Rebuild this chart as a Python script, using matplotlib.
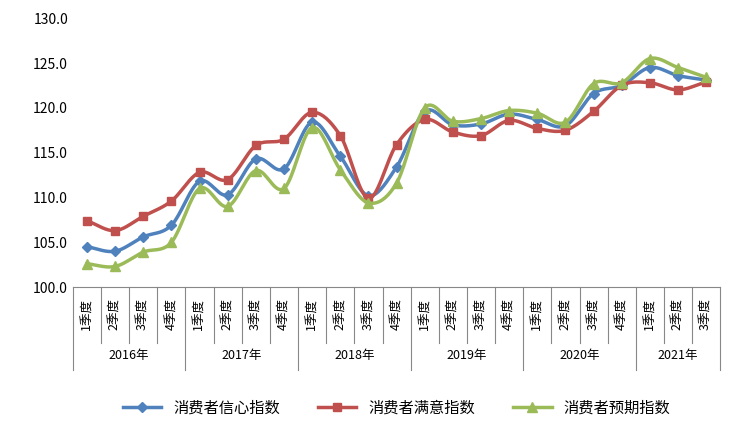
import numpy as np
import matplotlib.pyplot as plt
import matplotlib.transforms as mtransforms

plt.rcParams['font.family'] = ['Noto Sans CJK SC', 'DejaVu Sans']

years = ['2016年', '2017年', '2018年', '2019年', '2020年', '2021年']
quarters_per_year = [4, 4, 4, 4, 4, 3]
quarter_labels = ['1季度', '2季度', '3季度', '4季度']

confidence = [104.5, 104.0, 105.6, 106.9, 111.8, 110.3, 114.3, 113.2, 118.4, 114.6, 110.2, 113.4,
              119.6, 118.1, 118.2, 119.3, 118.7, 118.0, 121.6, 122.5, 124.5, 123.6, 123.1]
satisfaction = [107.4, 106.3, 107.9, 109.6, 112.8, 112.0, 115.8, 116.5, 119.5, 116.9, 109.9, 115.9,
                118.7, 117.3, 116.9, 118.6, 117.7, 117.5, 119.6, 122.5, 122.8, 122.0, 122.9]
expectation = [102.6, 102.3, 103.9, 105.0, 111.0, 109.0, 113.0, 111.0, 117.8, 113.1, 109.4, 111.6,
               120.0, 118.5, 118.8, 119.7, 119.4, 118.4, 122.7, 122.8, 125.5, 124.5, 123.4]


def smooth(y, n=20):
    # Catmull-Rom curve through the points, like Excel's smoothed line
    y = np.asarray(y, float)
    x = np.arange(len(y), dtype=float)
    px = np.concatenate([[2 * x[0] - x[1]], x, [2 * x[-1] - x[-2]]])
    py = np.concatenate([[2 * y[0] - y[1]], y, [2 * y[-1] - y[-2]]])
    xs, ys = [], []
    t = np.linspace(0, 1, n, endpoint=False)
    for i in range(1, len(px) - 2):
        for p, out in ((px, xs), (py, ys)):
            p0, p1, p2, p3 = p[i - 1:i + 3]
            out.extend(0.5 * (2 * p1 + (-p0 + p2) * t + (2 * p0 - 5 * p1 + 4 * p2 - p3) * t ** 2
                              + (-p0 + 3 * p1 - 3 * p2 + p3) * t ** 3))
    xs.append(x[-1]); ys.append(y[-1])
    return np.array(xs), np.array(ys)


fig = plt.figure(figsize=(7.29, 4.24), dpi=100)
ax = fig.add_axes([0.100, 0.323, 0.888, 0.634])

series = [
    (confidence, '消费者信心指数', '#4F81BD', 'D', 5),
    (satisfaction, '消费者满意指数', '#C0504D', 's', 6),
    (expectation, '消费者预期指数', '#9BBB59', '^', 7),
]
x = np.arange(len(confidence))
for vals, name, color, marker, ms in series:
    sx, sy = smooth(vals)
    ax.plot(sx, sy, color=color, lw=2.5)
    ax.plot(x, vals, ls='none', marker=marker, color=color, ms=ms)
    ax.plot([], [], color=color, lw=2.5, marker=marker, ms=ms, label=name)

ax.set_xlim(-0.5, len(x) - 0.5)
ax.set_ylim(100, 130)
ax.set_yticks(np.arange(100, 131, 5))
ax.set_yticklabels([f'{v:.1f}' for v in np.arange(100, 131, 5)], fontsize=10)
ax.set_xticks([])
for s in ['top', 'right', 'left']:
    ax.spines[s].set_visible(False)
ax.spines['bottom'].set_color('#888888')
ax.tick_params(axis='y', length=0)

trans = mtransforms.blended_transform_factory(ax.transData, ax.transAxes)
lc = '#888888'
i = 0
bounds = [-0.5]
for yr, nq in zip(years, quarters_per_year):
    for q in range(nq):
        ax.text(i, -0.04, quarter_labels[q], rotation=90, ha='center', va='top',
                fontsize=9, transform=trans)
        i += 1
    bounds.append(i - 0.5)
    ax.text(i - nq / 2 - 0.5, -0.255, yr, ha='center', va='center', fontsize=9, transform=trans)
for b in np.arange(-0.5, len(x), 1.0):
    long = b in bounds
    ax.plot([b, b], [0, -0.31 if long else -0.21], color=lc, lw=0.8,
            transform=trans, clip_on=False)

ax.legend(loc='center', bbox_to_anchor=(0.5, -0.45), ncol=3, frameon=False,
          fontsize=11, handlelength=2.5, columnspacing=2.5)

fig.savefig('out.png', dpi=100)
